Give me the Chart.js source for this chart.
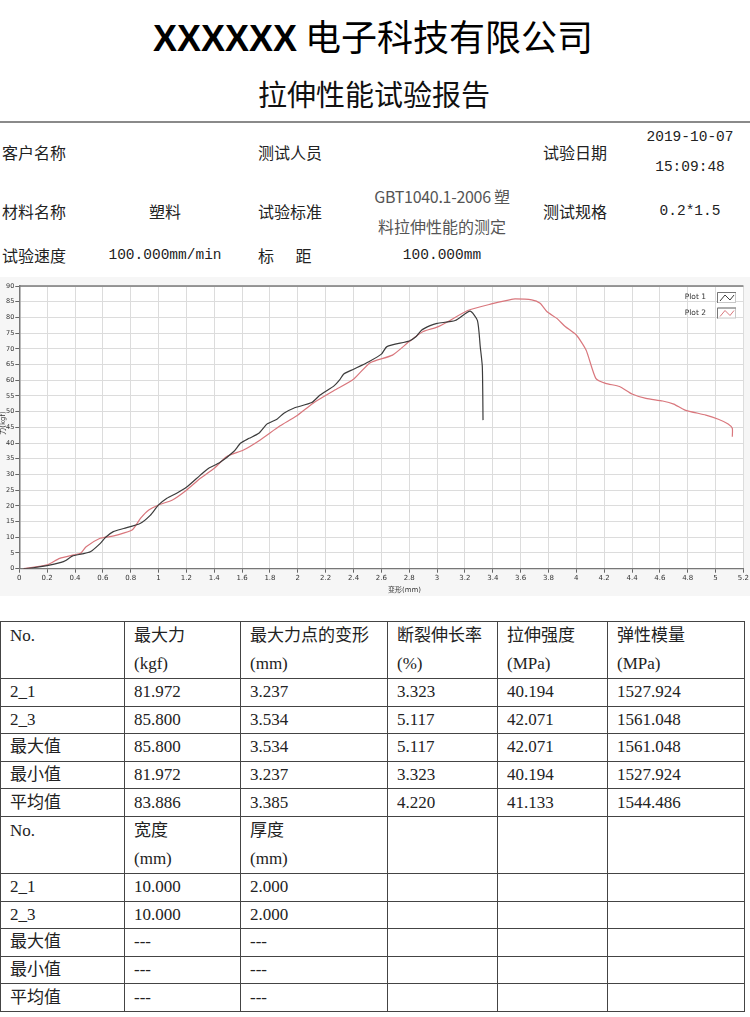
<!DOCTYPE html>
<html>
<head>
<meta charset="utf-8">
<script src="https://cdn.jsdelivr.net/npm/chart.js@4.4.1/dist/chart.umd.min.js"></script>
<style>
  body { margin: 0; background: #fff; width: 750px; height: 1017px; position: relative; overflow: hidden;
         font-family: "Noto Sans CJK SC", sans-serif; color: #222; }
  .t { position: absolute; white-space: nowrap; line-height: 1; }
  .mono { font-family: "Liberation Mono", "Noto Sans CJK SC", monospace; }
  #chartBox { position: absolute; left: 0; top: 277px; width: 750px; height: 319px; background: #f6f6f6; }
  table { position: absolute; left: 0; top: 621px; border-collapse: collapse; table-layout: fixed;
          font-family: "Liberation Serif", "Noto Sans CJK SC", serif; font-size: 17px; color: #222; }
  td { border: 1px solid #444; padding: 0 0 0 9px; vertical-align: middle; height: 26.6px; line-height: 26px; }
  td.two { vertical-align: top; height: 53.3px; line-height: 28px; }
</style>
</head>
<body>

<div class="t" style="left:0;width:746px;text-align:center;top:17px;font-size:36px;color:#000;">
  <span style="font-family:'Liberation Sans',sans-serif;font-weight:bold;">XXXXXX</span> 电子科技有限公司
</div>
<div class="t" style="left:0;width:748px;text-align:center;top:79px;font-size:29px;color:#111;">拉伸性能试验报告</div>
<div style="position:absolute;left:0;top:121px;width:750px;height:2px;background:#8a8a8a;"></div>

<div class="t" style="left:2px;top:144px;font-size:16px;">客户名称</div>
<div class="t" style="left:258px;top:144px;font-size:16px;">测试人员</div>
<div class="t" style="left:543px;top:144px;font-size:16px;">试验日期</div>
<div class="t mono" style="left:640px;width:100px;text-align:center;top:130px;font-size:14.5px;">2019-10-07</div>
<div class="t mono" style="left:640px;width:100px;text-align:center;top:160px;font-size:14.5px;">15:09:48</div>

<div class="t" style="left:2px;top:203px;font-size:16px;">材料名称</div>
<div class="t" style="left:115px;width:100px;text-align:center;top:203px;font-size:16px;">塑料</div>
<div class="t" style="left:258px;top:203px;font-size:16px;">试验标准</div>
<div class="t" style="left:342px;width:200px;text-align:center;top:188px;font-size:16px;color:#555;letter-spacing:-0.3px;">GBT1040.1-2006 塑</div>
<div class="t" style="left:342px;width:200px;text-align:center;top:218px;font-size:16px;color:#555;">料拉伸性能的测定</div>
<div class="t" style="left:543px;top:203px;font-size:16px;">测试规格</div>
<div class="t mono" style="left:640px;width:100px;text-align:center;top:204px;font-size:14.5px;">0.2*1.5</div>

<div class="t" style="left:2px;top:247px;font-size:16px;">试验速度</div>
<div class="t mono" style="left:95px;width:140px;text-align:center;top:248px;font-size:14.5px;">100.000mm/min</div>
<div class="t" style="left:258px;top:247px;font-size:16px;">标&nbsp;&nbsp;&nbsp;&nbsp;&nbsp;&nbsp;距</div>
<div class="t mono" style="left:382px;width:120px;text-align:center;top:248px;font-size:14.5px;">100.000mm</div>

<div id="chartBox"><canvas id="curveChart"></canvas></div>

<table>
  <colgroup>
    <col style="width:124px"><col style="width:116px"><col style="width:147px">
    <col style="width:110px"><col style="width:110px"><col style="width:137px">
  </colgroup>
  <tr><td class="two">No.</td><td class="two">最大力<br>(kgf)</td><td class="two">最大力点的变形<br>(mm)</td><td class="two">断裂伸长率<br>(%)</td><td class="two">拉伸强度<br>(MPa)</td><td class="two">弹性模量<br>(MPa)</td></tr>
  <tr><td>2_1</td><td>81.972</td><td>3.237</td><td>3.323</td><td>40.194</td><td>1527.924</td></tr>
  <tr><td>2_3</td><td>85.800</td><td>3.534</td><td>5.117</td><td>42.071</td><td>1561.048</td></tr>
  <tr><td>最大值</td><td>85.800</td><td>3.534</td><td>5.117</td><td>42.071</td><td>1561.048</td></tr>
  <tr><td>最小值</td><td>81.972</td><td>3.237</td><td>3.323</td><td>40.194</td><td>1527.924</td></tr>
  <tr><td>平均值</td><td>83.886</td><td>3.385</td><td>4.220</td><td>41.133</td><td>1544.486</td></tr>
  <tr><td class="two">No.</td><td class="two">宽度<br>(mm)</td><td class="two">厚度<br>(mm)</td><td class="two"></td><td class="two"></td><td class="two"></td></tr>
  <tr><td>2_1</td><td>10.000</td><td>2.000</td><td></td><td></td><td></td></tr>
  <tr><td>2_3</td><td>10.000</td><td>2.000</td><td></td><td></td><td></td></tr>
  <tr><td>最大值</td><td>---</td><td>---</td><td></td><td></td><td></td></tr>
  <tr><td>最小值</td><td>---</td><td>---</td><td></td><td></td><td></td></tr>
  <tr><td>平均值</td><td>---</td><td>---</td><td></td><td></td><td></td></tr>
</table>

<script>
// axis ticks
const xTickValues = [0, 0.2, 0.4, 0.6, 0.8, 1, 1.2, 1.4, 1.6, 1.8, 2, 2.2, 2.4, 2.6, 2.8, 3, 3.2, 3.4, 3.6, 3.8, 4, 4.2, 4.4, 4.6, 4.8, 5, 5.2];
const yTickValues = [0, 5, 10, 15, 20, 25, 30, 35, 40, 45, 50, 55, 60, 65, 70, 75, 80, 85, 90];

// Plot 1 (specimen 2_1): deformation (mm) / force (kgf)
const plot1X = [0.03, 0.1, 0.2, 0.3, 0.33, 0.38, 0.45, 0.51, 0.58, 0.62, 0.675, 0.75, 0.867, 0.94, 1.0, 1.06, 1.12, 1.2, 1.3, 1.36, 1.44, 1.54, 1.59, 1.65, 1.72, 1.78, 1.85, 1.9, 1.97, 2.1, 2.16, 2.26, 2.3, 2.33, 2.4, 2.51, 2.6, 2.64, 2.8, 2.85, 2.89, 2.95, 3.0, 3.13, 3.237, 3.29, 3.31, 3.325, 3.33];
const plot1Y = [0, 0.3, 1, 2, 2.5, 4, 4.7, 5.4, 8, 10, 11.8, 12.8, 14.4, 17, 20.3, 22.4, 23.8, 25.9, 29.8, 32, 33.8, 37.3, 40, 41.5, 43.1, 46.1, 47.6, 49.5, 51.1, 52.9, 55.3, 58.2, 60.1, 62, 63.5, 65.9, 68.3, 70.7, 72.5, 73.9, 76, 77.4, 78.1, 79, 81.97, 79, 70.7, 64.3, 47.3];

// Plot 2 (specimen 2_3)
const plot2X = [0.03, 0.2, 0.29, 0.39, 0.44, 0.48, 0.58, 0.65, 0.7, 0.81, 0.87, 0.93, 1.0, 1.1, 1.2, 1.3, 1.4, 1.49, 1.61, 1.73, 1.87, 1.99, 2.11, 2.26, 2.4, 2.52, 2.68, 2.8, 2.9, 3.0, 3.08, 3.22, 3.39, 3.52, 3.56, 3.68, 3.74, 3.79, 3.86, 3.92, 4.0, 4.07, 4.14, 4.21, 4.31, 4.4, 4.5, 4.62, 4.7, 4.78, 4.93, 5.02, 5.09, 5.12, 5.12];
const plot2Y = [0, 1.2, 3.3, 4.4, 4.9, 7, 9.7, 10.2, 10.7, 12.3, 16, 18.7, 20.3, 21.9, 25, 28.8, 32, 35.7, 37.8, 41, 45.4, 48.6, 52.7, 56.7, 60.3, 65.6, 68, 72.3, 75.5, 76.9, 78.7, 82.2, 84.3, 85.6, 85.9, 85.6, 84.5, 81.8, 79.7, 77.1, 74.4, 69.6, 60.6, 59, 58, 55.6, 54.2, 53.4, 52.4, 50.5, 48.9, 47.6, 46.1, 44.7, 42];

const seriesLabels = ['Plot 1', 'Plot 2'];
const seriesColors = ['#3c3c3c', '#d9777d'];

function toPoints(xs, ys) {
  return xs.map((x, i) => ({ x: x, y: ys[i] }));
}

// white plot area, frame, axis titles and the little legend in the corner
const decorPlugin = {
  id: 'decor',
  beforeDraw(chart) {
    const { ctx, chartArea: a } = chart;
    ctx.save();
    ctx.fillStyle = '#fff';
    ctx.fillRect(a.left, a.top, a.right - a.left, a.bottom - a.top);
    ctx.restore();
  },
  afterDraw(chart) {
    const { ctx, chartArea: a } = chart;
    ctx.save();
    ctx.strokeStyle = '#7a7a7a';
    ctx.lineWidth = 1.5;
    ctx.beginPath();
    ctx.moveTo(a.left, a.top);
    ctx.lineTo(a.right, a.top);
    ctx.stroke();

    ctx.fillStyle = '#333';
    ctx.font = '7px "DejaVu Sans", "Noto Sans CJK SC", sans-serif';
    ctx.textBaseline = 'middle';
    ctx.textAlign = 'left';
    ctx.fillText('变形(mm)', 388, 313);

    ctx.save();
    ctx.translate(3, 146);
    ctx.rotate(-Math.PI / 2);
    ctx.textAlign = 'center';
    ctx.fillText('力(kgf)', 0, 0);
    ctx.restore();

    // legend
    ctx.font = '7.5px "DejaVu Sans", sans-serif';
    chart.data.datasets.forEach((ds, i) => {
      const top = 15 + i * 15.5;
      ctx.textAlign = 'right';
      ctx.fillStyle = '#333';
      ctx.fillText(ds.label, 706, top + 5.5);
      ctx.fillStyle = '#fff';
      ctx.fillRect(717, top, 19, 11);
      ctx.lineWidth = 1;
      ctx.strokeStyle = '#c8c8c8';
      ctx.strokeRect(717.5, top + 0.5, 18, 10);
      ctx.strokeStyle = '#777';
      ctx.beginPath();
      ctx.moveTo(717.5, top + 11);
      ctx.lineTo(717.5, top + 0.5);
      ctx.lineTo(736, top + 0.5);
      ctx.stroke();
      ctx.strokeStyle = ds.borderColor;
      ctx.beginPath();
      ctx.moveTo(720, top + 9);
      ctx.lineTo(725, top + 3);
      ctx.lineTo(730, top + 8);
      ctx.lineTo(734, top + 3);
      ctx.stroke();
    });
    ctx.restore();
  }
};

new Chart(document.getElementById('curveChart'), {
  type: 'scatter',
  data: {
    datasets: [
      { label: seriesLabels[0], data: toPoints(plot1X, plot1Y), borderColor: seriesColors[0] },
      { label: seriesLabels[1], data: toPoints(plot2X, plot2Y), borderColor: seriesColors[1] }
    ]
  },
  options: {
    responsive: true,
    maintainAspectRatio: false,
    animation: false,
    showLine: true,
    layout: { padding: { left: 0, top: 9, right: 5, bottom: 0 } },
    elements: {
      point: { radius: 0, hoverRadius: 0 },
      line: { borderWidth: 1.2, tension: 0.2, fill: false }
    },
    plugins: {
      legend: { display: false },
      tooltip: { enabled: false }
    },
    scales: {
      x: {
        type: 'linear',
        min: 0,
        max: 5.2,
        afterBuildTicks: (s) => { s.ticks = xTickValues.map(v => ({ value: v })); },
        afterFit: (s) => { s.height = 27.3; },
        ticks: {
          autoSkip: false, maxRotation: 0, padding: 1, color: '#333',
          font: { size: 7, family: 'DejaVu Sans' },
          callback: (v) => String(v)
        },
        grid: { color: '#dcdcdc', tickColor: '#666', tickLength: 4 },
        border: { color: '#777', width: 1.2 }
      },
      y: {
        min: 0,
        max: 90,
        afterBuildTicks: (s) => { s.ticks = yTickValues.map(v => ({ value: v })); },
        afterFit: (s) => { s.width = 19.3; },
        ticks: {
          autoSkip: false, padding: 1, color: '#333',
          font: { size: 6.5, family: 'DejaVu Sans' },
          callback: (v) => String(v)
        },
        grid: { color: '#dcdcdc', tickColor: '#666', tickLength: 4 },
        border: { color: '#777', width: 1.5 }
      }
    }
  },
  plugins: [decorPlugin]
});
</script>
</body>
</html>
